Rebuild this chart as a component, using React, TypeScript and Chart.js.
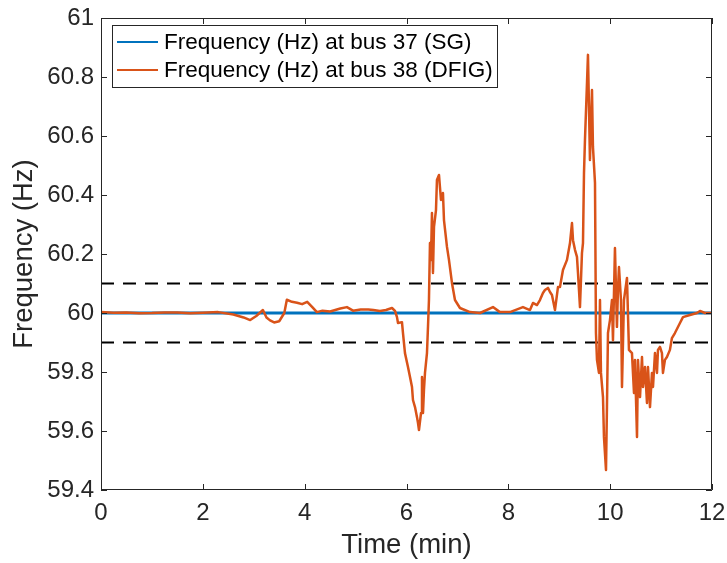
import React, { useEffect, useRef } from "react";
import { Chart, registerables } from "chart.js";

Chart.register(...registerables);

const xTicks = [0, 2, 4, 6, 8, 10, 12];
const yTicks = [59.4, 59.6, 59.8, 60, 60.2, 60.4, 60.6, 60.8, 61];

const seriesLabels = [
  "Frequency (Hz) at bus 37 (SG)",
  "Frequency (Hz) at bus 38 (DFIG)",
];

const sgTime = [0, 1, 2, 3, 4, 5, 6, 7, 8, 9, 10, 11, 12];
const sgFreq = [60.0, 60.0, 60.0, 60.0, 60.0, 60.0, 60.0, 60.0, 60.0, 60.0, 60.0, 60.0, 60.0];

const dfigTime = [
  0, 0.25, 0.5, 0.75, 1.0, 1.25, 1.5, 1.75, 2.0, 2.3, 2.6, 2.8, 2.93, 3.05, 3.18, 3.25, 3.32, 3.4,
  3.5, 3.6, 3.65, 3.75, 3.85, 3.95, 4.05, 4.15, 4.24, 4.35, 4.5, 4.7, 4.83, 4.95, 5.1, 5.25,
  5.35, 5.479, 5.597, 5.715, 5.774, 5.813, 5.833, 5.911, 5.931, 5.97, 6.029, 6.069, 6.108,
  6.127, 6.167, 6.206, 6.226, 6.245, 6.285, 6.304, 6.324, 6.343, 6.363, 6.402, 6.422, 6.441,
  6.461, 6.481, 6.5, 6.52, 6.54, 6.579, 6.598, 6.638, 6.677, 6.716, 6.736, 6.795, 6.834,
  6.893, 6.952, 7.05, 7.247, 7.443, 7.698, 7.836, 8.032, 8.287, 8.425, 8.484, 8.562, 8.621,
  8.68, 8.719, 8.778, 8.818, 8.857, 8.916, 8.975, 9.014, 9.073, 9.152, 9.211, 9.25, 9.27,
  9.309, 9.348, 9.368, 9.407, 9.446, 9.466, 9.486, 9.505, 9.545, 9.564, 9.584, 9.603, 9.643,
  9.662, 9.702, 9.721, 9.741, 9.78, 9.8, 9.819, 9.859, 9.878, 9.918, 9.937, 9.957, 9.996,
  10.035, 10.055, 10.094, 10.133, 10.153, 10.173, 10.212, 10.232, 10.271, 10.33, 10.369,
  10.428, 10.468, 10.487, 10.527, 10.546, 10.586, 10.625, 10.645, 10.684, 10.723, 10.743,
  10.782, 10.821, 10.841, 10.88, 10.919, 10.939, 10.978, 11.017, 11.037, 11.076, 11.115,
  11.174, 11.213, 11.272, 11.371, 11.43, 11.567, 11.705, 11.764, 11.862, 12.0,
];
const dfigFreq = [
  60.003, 60.001, 60.002, 59.999, 60.0, 60.002, 60.002, 59.999, 60.001, 60.003, 59.995, 59.985, 59.976, 59.99, 60.01, 59.985, 59.975, 59.968,
  59.972, 60.0, 60.045, 60.038, 60.035, 60.03, 60.038, 60.02, 60.003, 60.008, 60.005, 60.015, 60.02, 60.008, 60.012, 60.012,
  60.01, 60.007, 60.01, 60.017, 60.007, 59.986, 59.966, 59.969, 59.932, 59.864, 59.817, 59.783, 59.749,
  59.705, 59.681, 59.647, 59.627, 59.603, 59.661, 59.783, 59.661, 59.739, 59.797, 59.864, 59.953, 60.044,
  60.237, 60.18, 60.339, 60.136, 60.292, 60.349, 60.451, 60.468, 60.383, 60.407, 60.315, 60.224, 60.18,
  60.102, 60.044, 60.017, 60.003, 60.0, 60.02, 60.003, 60.003, 60.02, 60.01, 60.034, 60.027, 60.044,
  60.068, 60.078, 60.085, 60.071, 60.061, 60.01, 60.088, 60.088, 60.146, 60.18, 60.237, 60.305, 60.247,
  60.214, 60.19, 60.136, 60.02, 60.203, 60.237, 60.475, 60.586, 60.78, 60.875, 60.698, 60.519, 60.756,
  60.563, 60.441, 59.932, 59.841, 59.797, 60.044, 59.797, 59.715, 59.58, 59.468, 59.681, 59.932, 59.976,
  60.044, 59.908, 60.22, 59.953, 60.078, 60.156, 60.044, 59.749, 60.044, 60.119, 59.875,
  59.864, 59.729, 59.841, 59.58, 59.841, 59.715, 59.851, 59.749, 59.817, 59.695, 59.817,
  59.681, 59.797, 59.749, 59.864, 59.797, 59.875, 59.885, 59.864, 59.797, 59.841, 59.851,
  59.875, 59.915, 59.932, 59.966, 59.986, 59.993, 60.0, 60.007, 60.0, 60.0,
];

const limitTime = [0, 12];
const upperLimit = 60.1;
const lowerLimit = 59.9;

const BLUE = "#0072BD";
const ORANGE = "#D95319";
const AXIS = "#262626";
const FONT = "'Liberation Sans', Arial, Helvetica, sans-serif";

const zip = (t: number[], v: number[]) => t.map((x, i) => ({ x, y: v[i] }));

const boxPlugin = {
  id: "matlabBox",
  afterDatasetsDraw(chart: any) {
    const { ctx, chartArea: a, scales } = chart;
    const tl = 6;
    ctx.save();
    ctx.strokeStyle = AXIS;
    ctx.lineWidth = 1;
    ctx.beginPath();
    ctx.rect(a.left + 0.5, a.top + 0.5, a.right - a.left - 1, a.bottom - a.top - 1);
    ctx.stroke();
    ctx.beginPath();
    for (const t of scales.x.ticks) {
      const px = Math.round(scales.x.getPixelForValue(t.value)) + 0.5;
      ctx.moveTo(px, a.bottom);
      ctx.lineTo(px, a.bottom - tl);
      ctx.moveTo(px, a.top);
      ctx.lineTo(px, a.top + tl);
    }
    for (const t of scales.y.ticks) {
      const py = Math.round(scales.y.getPixelForValue(t.value)) + 0.5;
      ctx.moveTo(a.left, py);
      ctx.lineTo(a.left + tl, py);
      ctx.moveTo(a.right, py);
      ctx.lineTo(a.right - tl, py);
    }
    ctx.stroke();

    // legend
    const lx = 112, ly = 25, lw = 385, lh = 62;
    ctx.fillStyle = "#ffffff";
    ctx.fillRect(lx, ly, lw, lh);
    ctx.strokeStyle = AXIS;
    ctx.strokeRect(lx + 0.5, ly + 0.5, lw, lh);
    const rows = [
      { color: BLUE, y: 42, text: seriesLabels[0] },
      { color: ORANGE, y: 70, text: seriesLabels[1] },
    ];
    ctx.font = `22.5px ${FONT}`;
    ctx.textBaseline = "middle";
    ctx.textAlign = "left";
    for (const r of rows) {
      ctx.strokeStyle = r.color;
      ctx.lineWidth = 2;
      ctx.beginPath();
      ctx.moveTo(117, r.y);
      ctx.lineTo(158, r.y);
      ctx.stroke();
      ctx.fillStyle = "#000000";
      ctx.fillText(r.text, 164, r.y + 1);
    }
    ctx.restore();
  },
};

export default function App() {
  const ref = useRef<HTMLCanvasElement | null>(null);
  useEffect(() => {
    document.body.style.margin = "0";
    const canvas = ref.current!;
    const chart = new Chart(canvas, {
      type: "line",
      data: {
        datasets: [
          {
            label: seriesLabels[1],
            data: zip(dfigTime, dfigFreq),
            borderColor: ORANGE,
            borderWidth: 2.5,
            borderJoinStyle: "round",
            pointRadius: 0,
            order: 0,
          },
          {
            label: seriesLabels[0],
            data: zip(sgTime, sgFreq),
            borderColor: BLUE,
            borderWidth: 3,
            pointRadius: 0,
            order: 1,
          },
          {
            label: "upper",
            data: limitTime.map((x) => ({ x, y: upperLimit })),
            borderColor: "#000000",
            borderWidth: 2,
            borderDash: [13, 9],
            pointRadius: 0,
            order: 2,
          },
          {
            label: "lower",
            data: limitTime.map((x) => ({ x, y: lowerLimit })),
            borderColor: "#000000",
            borderWidth: 2,
            borderDash: [13, 9],
            pointRadius: 0,
            order: 2,
          },
        ],
      },
      options: {
        responsive: false,
        animation: false,
        devicePixelRatio: 1,
        layout: { padding: { top: 18, right: 15, left: 0, bottom: 0 } },
        plugins: { legend: { display: false }, tooltip: { enabled: false } },
        scales: {
          x: {
            type: "linear",
            min: 0,
            max: 12,
            afterBuildTicks: (s: any) => {
              s.ticks = xTicks.map((value) => ({ value }));
            },
            afterFit: (s: any) => {
              s.height = 73;
              s.paddingLeft = 0;
              s.paddingRight = 0;
            },
            grid: { display: false, drawTicks: false },
            border: { display: false },
            ticks: {
              color: AXIS,
              font: { family: FONT, size: 24 },
              padding: 9,
              maxRotation: 0,
            },
            title: {
              display: true,
              text: "Time (min)",
              color: AXIS,
              font: { family: FONT, size: 27.5 },
              padding: { top: 0, bottom: 1 },
            },
          },
          y: {
            type: "linear",
            min: 59.4,
            max: 61,
            afterBuildTicks: (s: any) => {
              s.ticks = yTicks.map((value) => ({ value }));
            },
            afterFit: (s: any) => {
              s.width = 101;
              s.paddingTop = 0;
              s.paddingBottom = 0;
            },
            grid: { display: false, drawTicks: false },
            border: { display: false },
            ticks: {
              color: AXIS,
              font: { family: FONT, size: 24 },
              padding: 7,
              callback: (v: any) => String(Math.round(Number(v) * 10) / 10),
            },
            title: {
              display: true,
              text: "Frequency (Hz)",
              color: AXIS,
              font: { family: FONT, size: 27.5 },
              padding: { top: 8, bottom: 0 },
            },
          },
        },
      },
      plugins: [boxPlugin],
    });
    return () => chart.destroy();
  }, []);
  return <canvas ref={ref} width={727} height={563} style={{ display: "block" }} />;
}
